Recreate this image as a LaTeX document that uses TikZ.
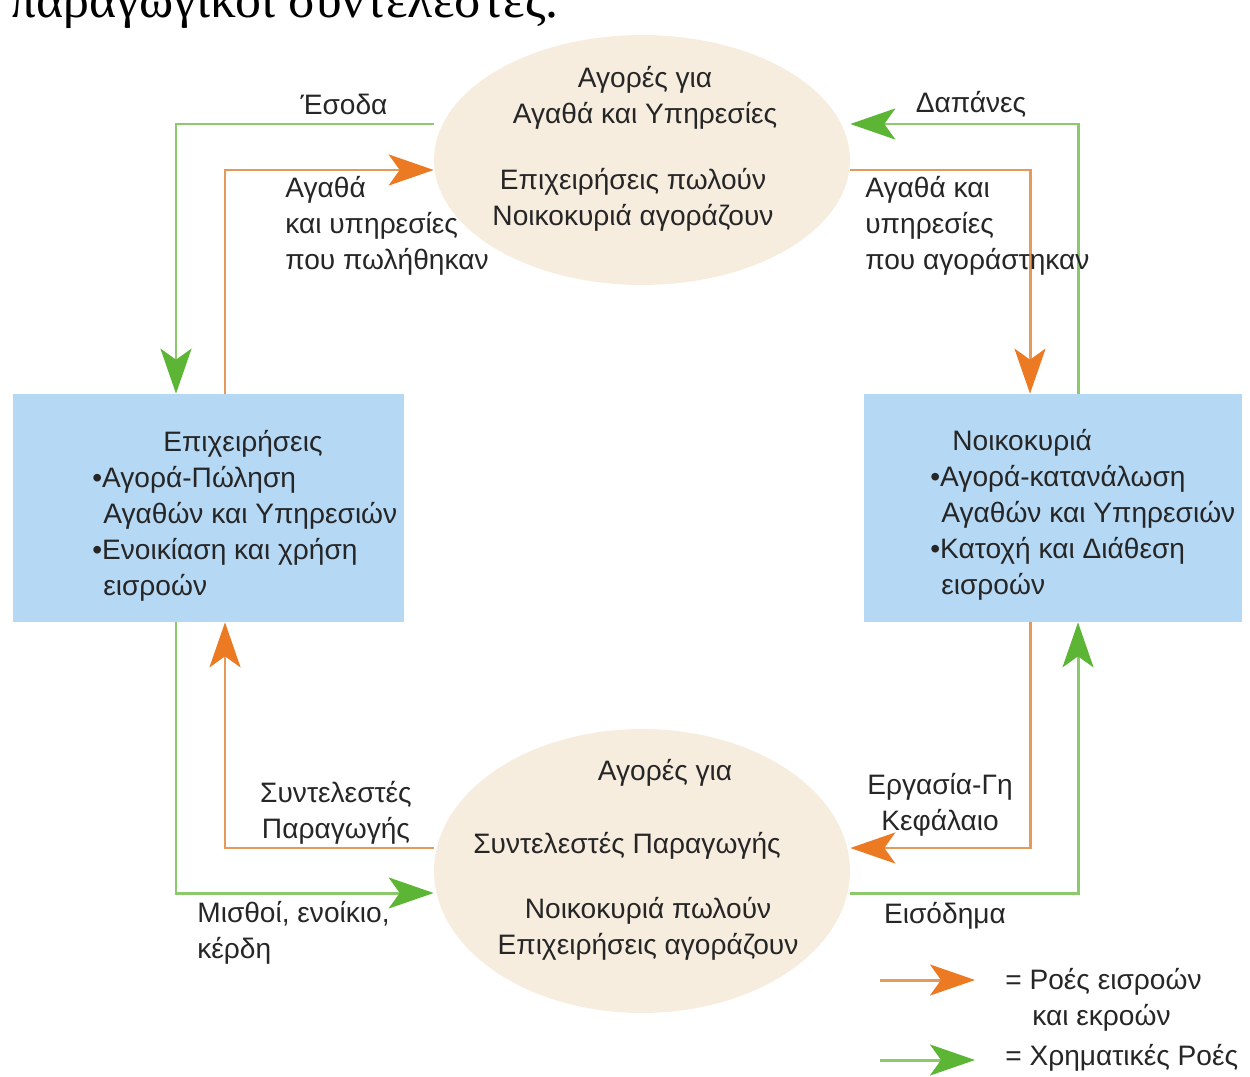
\documentclass[tikz,border=0pt]{standalone}
\usepackage{fontspec}
\setmainfont{Liberation Sans}
\newfontfamily\headfont{Liberation Serif}
\usetikzlibrary{arrows.meta,shapes.geometric}

\definecolor{boxblue}{HTML}{B5D8F5}
\definecolor{ovalbeige}{HTML}{F7EDDF}
\definecolor{flowor}{HTML}{E59A5C}
\definecolor{flowortip}{HTML}{EC7A23}
\definecolor{flowgr}{HTML}{8CC96C}
\definecolor{flowgrtip}{HTML}{5DB535}

\def\txt{\fontsize{16}{20.5}\selectfont}

\begin{document}
\begin{tikzpicture}[x=0.02cm, y=-0.02cm,
market/.style={ellipse, fill=ovalbeige, inner sep=0pt, minimum width=8.32cm},
sector/.style={rectangle, fill=boxblue, inner sep=0pt, minimum height=4.56cm},
lbl/.style={font=\txt, inner sep=0pt, align=left, text=black!85},
goods/.style={draw=flowor, line width=1.7pt,
  -{Stealth[length=0.9cm, width=0.62cm, inset=0.22cm, color=flowortip]}},
money/.style={draw=flowgr, line width=1.7pt,
  -{Stealth[length=0.9cm, width=0.62cm, inset=0.22cm, color=flowgrtip]}},
]
\useasboundingbox (0,0) rectangle (1250,1077);
\clip (0,0) rectangle (1250,1077);

\node[anchor=base west, inner sep=0pt, font=\headfont\fontsize{29.5}{32}\selectfont]
  at (10,18) (head) {παραγωγικοί συντελεστές.};

% Markets and sectors:
\node[market, minimum height=5cm] at (642,160) (topm) {};
\node[market, minimum height=5.68cm] at (642,871) (botm) {};
\node[sector, minimum width=7.82cm] at (208.5,508) (firms) {};
\node[sector, minimum width=7.56cm] at (1053,508) (house) {};

\node[lbl, align=center] at (645,98) (topt1) {Αγορές για\\Αγαθά και Υπηρεσίες};
\node[lbl, align=center] at (633,200) (topt2) {Επιχειρήσεις πωλούν\\Νοικοκυριά αγοράζουν};
\node[lbl] at (665,773) (bott1) {Αγορές για};
\node[lbl] at (627,846) (bott2) {Συντελεστές Παραγωγής};
\node[lbl, align=center] at (648,929) (bott3) {Νοικοκυριά πωλούν\\Επιχειρήσεις αγοράζουν};

\node[lbl, anchor=west] at (92,516) (firmst) {\hspace*{1.42cm}Επιχειρήσεις\\•Αγορά-Πώληση\\
  \hspace*{0.22cm}Αγαθών και Υπηρεσιών\\•Ενοικίαση και χρήση\\\hspace*{0.22cm}εισροών};
\node[lbl, anchor=west] at (930,515) (houset) {\hspace*{0.44cm}Νοικοκυριά\\•Αγορά-κατανάλωση\\
  \hspace*{0.22cm}Αγαθών και Υπηρεσιών\\•Κατοχή και Διάθεση\\\hspace*{0.22cm}εισροών};

% Flows, top half:
\draw[money] (topm.west |- 0,124) -| (176,0 |- firms.north);
\draw[goods] (225,0 |- firms.north) |- (topm.west |- 0,170);
\draw[money] (1078,0 |- house.north) |- (topm.east |- 0,124);
\draw[goods] (topm.east |- 0,170) -| (1030,0 |- house.north);

% Flows, bottom half:
\draw[goods] (botm.west |- 0,848) -| (225,0 |- firms.south);
\draw[money] (176,0 |- firms.south) |- (botm.west |- 0,893);
\draw[goods] (1030,0 |- house.south) |- (botm.east |- 0,848);
\draw[money] (botm.east |- 0,893) -| (1078,0 |- house.south);

\node[lbl] at (344,104) (esoda) {Έσοδα};
\node[lbl] at (971,104) (dapanes) {Δαπάνες};
\node[lbl, anchor=west] at (285,226) (soldlbl) {Αγαθά\\και υπηρεσίες\\που πωλήθηκαν};
\node[lbl, anchor=west] at (865,226) (boughtlbl) {Αγαθά και\\υπηρεσίες\\που αγοράστηκαν};
\node[lbl, align=center] at (336,813) (factlbl) {Συντελεστές\\Παραγωγής};
\node[lbl, anchor=west] at (197,933) (wagelbl) {Μισθοί, ενοίκιο,\\κέρδη};
\node[lbl, align=center] at (940,805) (landlbl) {Εργασία-Γη\\Κεφάλαιο};
\node[lbl] at (945,916) (incomelbl) {Εισόδημα};

% Legend:
\coordinate (lg1a) at (880,980);
\coordinate (lg1b) at (975,980);
\coordinate (lg2a) at (880,1060);
\coordinate (lg2b) at (975,1060);
\draw[goods] (lg1a) -- (lg1b);
\draw[money] (lg2a) -- (lg2b);
\node[lbl, anchor=west] at (1005,1000) (leg1) {= Ροές εισροών\\\hspace*{0.54cm}και εκροών};
\node[lbl, anchor=west] at (1005,1058) (leg2) {= Χρηματικές Ροές};
\end{tikzpicture}
\end{document}
